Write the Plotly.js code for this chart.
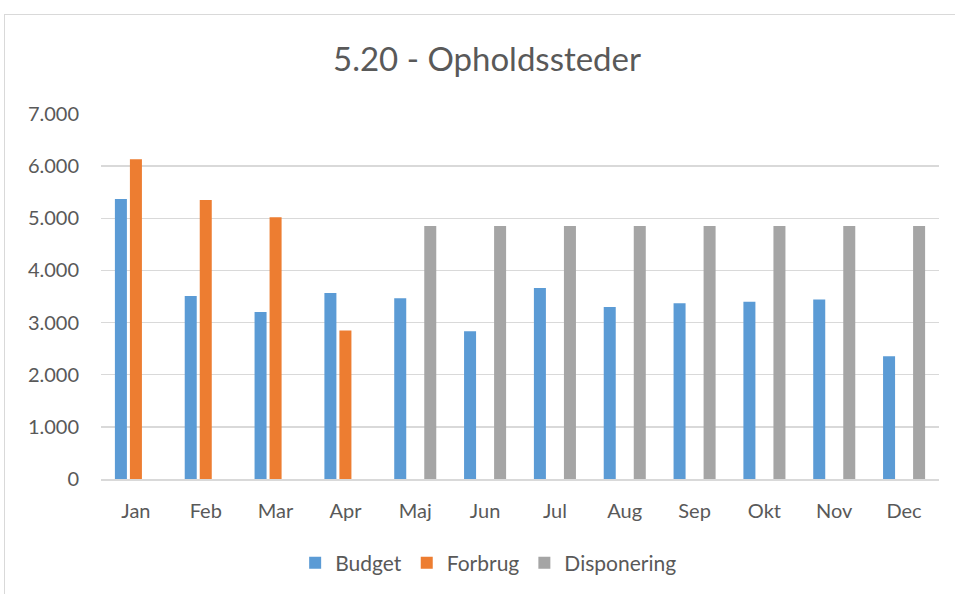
<!DOCTYPE html>
<html>
<head>
<meta charset="utf-8">
<script src="https://cdn.plot.ly/plotly-3.0.1.min.js"></script>
<style>
html,body{margin:0;padding:0;background:#fff;overflow:hidden;width:955px;height:594px;}
#frame{position:absolute;left:4px;top:14px;width:1000px;height:700px;border:1.5px solid #D9D9D9;box-sizing:border-box;pointer-events:none;}
#chart{position:absolute;left:0;top:0;width:955px;height:594px;}
</style>
</head>
<body>
<div id="chart"></div>
<div id="frame"></div>
<script>
const categories = ["Jan","Feb","Mar","Apr","Maj","Jun","Jul","Aug","Sep","Okt","Nov","Dec"];
const budget = [5372, 3511, 3205, 3569, 3467, 2835, 3665, 3301, 3372, 3397, 3441, 2354];
const forbrug = [6134, 5352, 5019, 2847, null, null, null, null, null, null, null, null];
const disponering = [null, null, null, null, 4853, 4853, 4853, 4853, 4853, 4853, 4853, 4853];
const tickVals = [0, 1000, 2000, 3000, 4000, 5000, 6000, 7000];
const tickText = ["0", "1.000", "2.000", "3.000", "4.000", "5.000", "6.000", "7.000"];

const font = "Lato, 'Open Sans', sans-serif";
const traces = [
  {type:"bar", name:"Budget", x:categories, y:budget, marker:{color:"#5B9BD5"}},
  {type:"bar", name:"Forbrug", x:categories, y:forbrug, marker:{color:"#ED7D31"}},
  {type:"bar", name:"Disponering", x:categories, y:disponering, marker:{color:"#A5A5A5"}}
];
const layout = {
  width:955, height:594,
  paper_bgcolor:"rgba(0,0,0,0)", plot_bgcolor:"rgba(0,0,0,0)",
  margin:{l:101, r:16, t:114, b:114},
  font:{family:font, color:"#595959", size:20},
  title:{text:"5.20 - Opholdssteder", x:0.51, xanchor:"center", y:0.9, yanchor:"middle", font:{family:font, size:33, color:"#595959"}},
  barmode:"group", bargap:0.355, bargroupgap:0.2,
  xaxis:{showgrid:false, showline:true, linecolor:"#D9D9D9", linewidth:1.5, ticks:"", tickfont:{size:20, color:"#595959"}, ticklabelstandoff:13},
  yaxis:{range:[0,7000], tickvals:tickVals, ticktext:tickText, showgrid:true, gridcolor:"#D9D9D9", gridwidth:1.5, zeroline:false, showline:false, ticks:"", tickfont:{size:20, color:"#595959"}, ticklabelstandoff:21},
  legend:{orientation:"h", x:0.462, xanchor:"center", y:-0.227, yanchor:"middle", font:{size:21, color:"#595959"}},
  showlegend:true
};
Plotly.newPlot("chart", traces, layout, {displayModeBar:false, staticPlot:true});
</script>
</body>
</html>
